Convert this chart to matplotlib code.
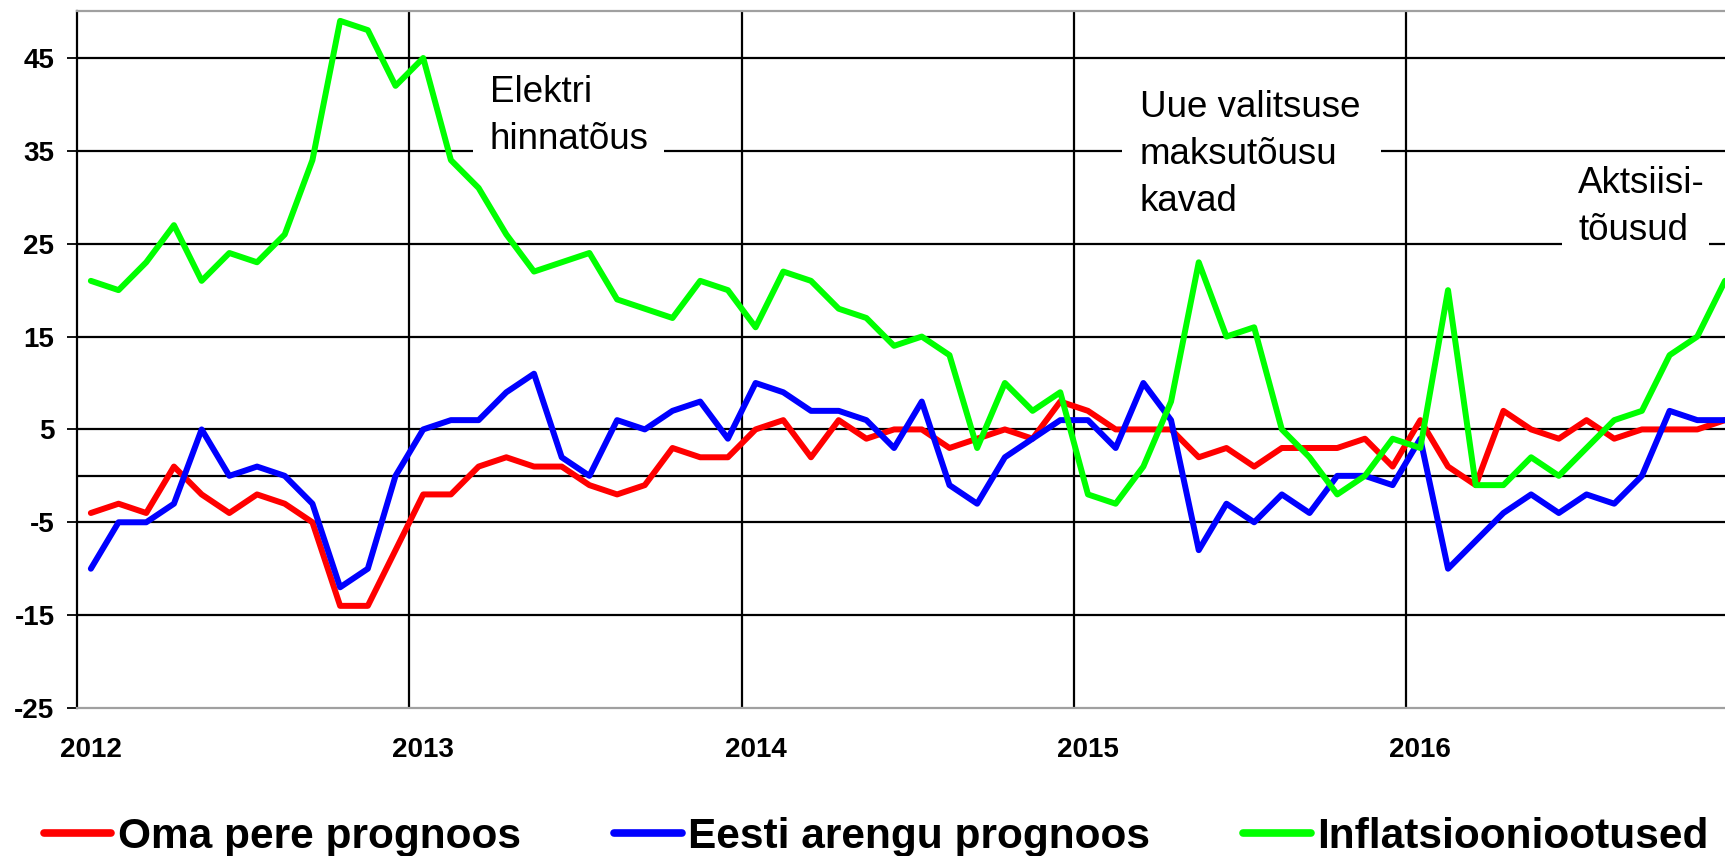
import numpy as np
import matplotlib
matplotlib.use('Agg')
import matplotlib.pyplot as plt
from matplotlib.patches import Rectangle

# monthly values, Jan 2012 - Dec 2016
years = ['2012', '2013', '2014', '2015', '2016']

oma_pere = [-4, -3, -4, 1, -2, -4, -2, -3, -5, -14, -14, -8,
            -2, -2, 1, 2, 1, 1, -1, -2, -1, 3, 2, 2,
            5, 6, 2, 6, 4, 5, 5, 3, 4, 5, 4, 8,
            7, 5, 5, 5, 2, 3, 1, 3, 3, 3, 4, 1,
            6, 1, -1, 7, 5, 4, 6, 4, 5, 5, 5, 6]

eesti_areng = [-10, -5, -5, -3, 5, 0, 1, 0, -3, -12, -10, 0,
               5, 6, 6, 9, 11, 2, 0, 6, 5, 7, 8, 4,
               10, 9, 7, 7, 6, 3, 8, -1, -3, 2, 4, 6,
               6, 3, 10, 6, -8, -3, -5, -2, -4, 0, 0, -1,
               4, -10, -7, -4, -2, -4, -2, -3, 0, 7, 6, 6]

inflatsioon = [21, 20, 23, 27, 21, 24, 23, 26, 34, 49, 48, 42,
               45, 34, 31, 26, 22, 23, 24, 19, 18, 17, 21, 20,
               16, 22, 21, 18, 17, 14, 15, 13, 3, 10, 7, 9,
               -2, -3, 1, 8, 23, 15, 16, 5, 2, -2, 0, 4,
               3, 20, -1, -1, 2, 0, 3, 6, 7, 13, 15, 21]

labels = ['Oma pere prognoos', 'Eesti arengu prognoos', 'Inflatsiooniootused']
colors = ['#ff0000', '#0000ff', '#00ff00']

notes = ['Elektri\nhinnatõus', 'Uue valitsuse\nmaksutõusu\nkavad', 'Aktsiisi-\ntõusud']

yticks = [-25, -15, -5, 5, 15, 25, 35, 45]

# layout (axes fractions): text anchor and white box behind each note
note_xy = [(0.2506, 0.908), (0.645, 0.887), (0.911, 0.778)]
note_box = [(0.2403, 0.786, 0.1159, 0.138),
            (0.634, 0.707, 0.157, 0.194),
            (0.901, 0.654, 0.089, 0.132)]

plt.rcParams['font.family'] = ['Liberation Sans', 'DejaVu Sans']

W, H = 1725, 856
fig = plt.figure(figsize=(W / 100, H / 100), dpi=100)
ax = fig.add_axes([77 / W, 148 / H, 1648 / W, 697 / H])

x = np.arange(len(oma_pere))
lines = []
for series, label, color in zip([oma_pere, eesti_areng, inflatsioon], labels, colors):
    l, = ax.plot(x, series, color=color, lw=4.3, label=label, zorder=3,
                 solid_joinstyle='round', solid_capstyle='round')
    lines.append(l)

ax.set_xlim(-0.5, 59)
ax.set_ylim(-25, 50.06)

# grid: horizontal at ticks and zero, vertical at year boundaries
for v in yticks[1:] + [0]:
    ax.axhline(v, color='black', lw=1.6, zorder=1)
for k in range(1, len(years)):
    ax.axvline(12 * k - 0.5, color='black', lw=1.6, zorder=1)

ax.set_yticks(yticks)
ax.set_yticklabels([str(v) for v in yticks], fontsize=20, fontweight='bold')
ax.tick_params(axis='y', length=7.2, width=1.3, pad=9, color='black')

ax.set_xticks([12 * k for k in range(len(years))])
ax.set_xticklabels(years, fontsize=20, fontweight='bold')
ax.tick_params(axis='x', length=0, pad=21)

ax.spines['right'].set_visible(False)
ax.spines['left'].set_color('black')
ax.spines['left'].set_linewidth(1.6)
for s in ['top', 'bottom']:
    ax.spines[s].set_color('#a0a0a0')
    ax.spines[s].set_linewidth(1.6)

for note, (tx, ty), (bx, by, bw, bh) in zip(notes, note_xy, note_box):
    ax.add_patch(Rectangle((bx, by), bw, bh, transform=ax.transAxes,
                           facecolor='white', edgecolor='none', zorder=2))
    ax.text(tx, ty, note, transform=ax.transAxes, ha='left', va='top',
            fontsize=26.5, linespacing=1.45, zorder=4)

leg = fig.legend(handles=lines, loc='center', bbox_to_anchor=(0.508, 0.022), ncol=3,
                 frameon=False, prop={'size': 30.5, 'weight': 'bold'},
                 handlelength=1.6, handletextpad=0.15, columnspacing=2.2)
for h in leg.legend_handles:
    h.set_linewidth(5.5)

fig.savefig('out.png', dpi=100)
